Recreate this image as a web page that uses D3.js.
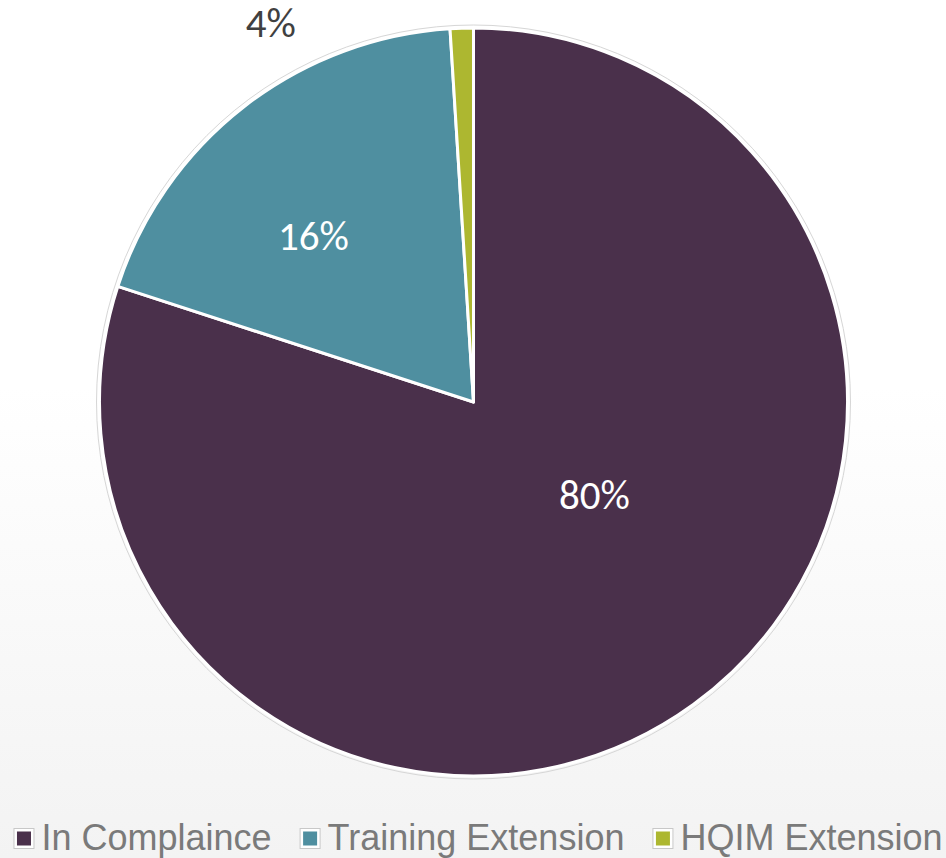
<!DOCTYPE html>
<html>
<head>
<meta charset="utf-8">
<script src="https://cdn.jsdelivr.net/npm/d3@7"></script>
<style>
  html, body { margin: 0; padding: 0; background: #fff; }
  svg { display: block; }
</style>
</head>
<body>
<div id="chart"></div>
<script>
// data
var categories = ['In Complaince', 'Training Extension', 'HQIM Extension'];
var values = [80, 19, 1];
var valueLabels = ['80%', '16%', '4%'];
var colors = ['#4a304b', '#4f8fa0', '#adb730'];

var width = 946,
  height = 858;

var cx = 473.5, cy = 402, radius = 374;

var svg = d3.select('#chart')
  .append('svg')
  .attr('width', width)
  .attr('height', height);

// background gradient
var grad = svg.append('defs').append('linearGradient')
  .attr('id', 'bg')
  .attr('x1', 0).attr('y1', 0).attr('x2', 0).attr('y2', 1);
grad.append('stop').attr('offset', '45%').attr('stop-color', '#ffffff');
grad.append('stop').attr('offset', '100%').attr('stop-color', '#f3f3f3');

svg.append('rect')
  .attr('width', width)
  .attr('height', height)
  .attr('fill', 'url(#bg)');

var g = svg.append('g')
  .attr('transform', 'translate(' + cx + ',' + cy + ')');

// faint outer ring
g.append('circle')
  .attr('r', radius + 3)
  .attr('fill', 'none')
  .attr('stroke', '#d6d6d6')
  .attr('stroke-width', 1);

var pie = d3.pie().sort(null).value(function(d) { return d; });
var arc = d3.arc().innerRadius(0).outerRadius(radius);

var arcs = pie(values);

g.selectAll('.slice')
  .data(arcs)
  .enter()
  .append('path')
  .attr('class', 'slice')
  .attr('d', arc)
  .attr('fill', function(d, i) { return colors[i]; })
  .attr('stroke', '#ffffff')
  .attr('stroke-width', 3)
  .attr('stroke-linejoin', 'round');

// label placement: polar angle (deg, clockwise from top) and distance from centre
var labelPolar = [[127.8, 153], [315.9, 230], [331.8, 429]];
var labelFill = ['#ffffff', '#ffffff', '#404040'];

g.selectAll('.lbl')
  .data(arcs)
  .enter()
  .append('text')
  .attr('class', 'lbl')
  .attr('x', function(d, i) { return labelPolar[i][1] * Math.sin(labelPolar[i][0] * Math.PI / 180); })
  .attr('y', function(d, i) { return -labelPolar[i][1] * Math.cos(labelPolar[i][0] * Math.PI / 180); })
  .attr('dy', '0.33em')
  .attr('text-anchor', 'middle')
  .attr('font-family', 'Carlito, Lato, "Open Sans", sans-serif')
  .attr('font-size', 41)
  .attr('fill', function(d, i) { return labelFill[i]; })
  .text(function(d, i) { return valueLabels[i]; });

// legend
var legend = svg.append('g').attr('class', 'legend');
var lx = 0;
categories.forEach(function(c, i) {
  var item = legend.append('g').attr('transform', 'translate(' + lx + ',0)');
  item.append('rect')
    .attr('x', 0.5).attr('y', 828.5)
    .attr('width', 20).attr('height', 20)
    .attr('fill', '#ffffff')
    .attr('stroke', '#c8c8c8');
  item.append('rect')
    .attr('x', 3.5).attr('y', 831.5)
    .attr('width', 14).attr('height', 14)
    .attr('fill', colors[i]);
  var t = item.append('text')
    .attr('x', 28)
    .attr('y', 850)
    .attr('font-family', '"Liberation Sans", Arial, sans-serif')
    .attr('font-size', 36)
    .attr('fill', '#7a7a7a')
    .text(c);
  lx += 28 + t.node().getComputedTextLength() + 28;
});
var legendWidth = lx - 28;
legend.attr('transform', 'translate(' + (478 - legendWidth / 2) + ',0)');
</script>
</body>
</html>
